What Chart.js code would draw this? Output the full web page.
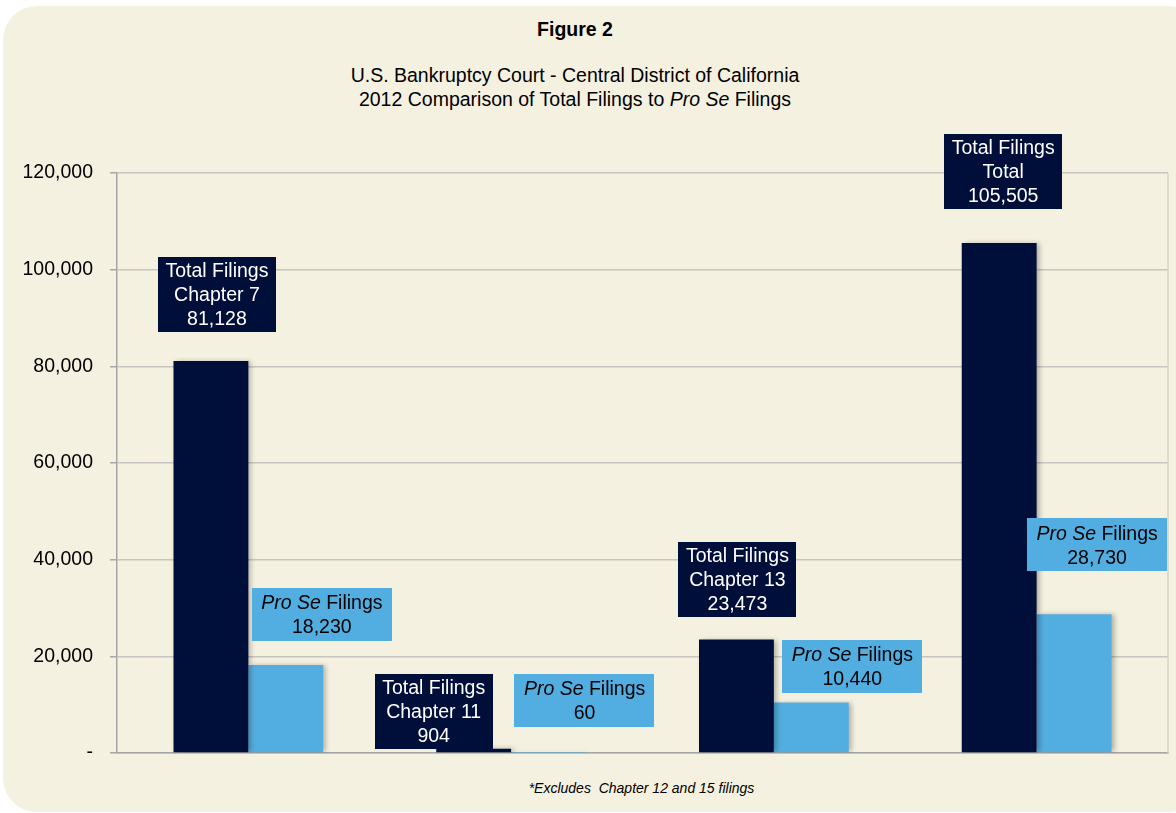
<!DOCTYPE html>
<html>
<head>
<meta charset="utf-8">
<script src="https://cdn.jsdelivr.net/npm/chart.js@4.4.1/dist/chart.umd.min.js"></script>
<style>
  html, body { margin:0; padding:0; background:#ffffff; width:1176px; height:813px; overflow:hidden; }
  #card { position:absolute; left:3px; top:6px; width:1200px; height:806px; background:#F5F1E0; border-radius:34px; }
  #wrap { position:absolute; left:0; top:0; width:1176px; height:813px; }
  .t { position:absolute; left:0; width:1150px; text-align:center; font-family:"Liberation Sans", Arial, sans-serif; color:#000; line-height:22px; }
  #fig { top:18px; font-size:19.5px; font-weight:bold; }
  #sub1 { top:64px; font-size:19.5px; }
  #sub2 { top:88px; font-size:19.5px; }
  #foot { top:779px; left:0; width:1283px; font-size:14px; font-style:italic; line-height:18px; }
</style>
</head>
<body>
<div id="card"></div>
<div class="t" id="fig">Figure 2</div>
<div class="t" id="sub1">U.S. Bankruptcy Court - Central District of California</div>
<div class="t" id="sub2">2012 Comparison of Total Filings to <i>Pro Se</i> Filings</div>
<div class="t" id="foot">*Excludes&nbsp; Chapter 12 and 15 filings</div>
<div id="wrap"><canvas id="c" width="1176" height="813"></canvas></div>
<script>
// ---- data ----
const categories = ["Chapter 7", "Chapter 11", "Chapter 13", "Total"];
const totalFilings = [81128, 904, 23473, 105505];
const proSeFilings = [18230, 60, 10440, 28730];
const yTicks = [0, 20000, 40000, 60000, 80000, 100000, 120000];

// ---- label layout (offsets from bar top-center) ----
const darkOffsets = [[6, -29], [-40, 0], [1, -23], [4, -34]];
const lightOffsets = [[36, -24], [36, -26], [41, -10], [23, -43]];

const DARK = "#000F3A";
const LIGHT = "#52ADE0";
const FONT = '"Liberation Sans", Arial, sans-serif';
const FS = 19.5;
const fmt = v => v.toLocaleString("en-US");

const shadowPlugin = {
  id: "shadow",
  beforeDatasetsDraw(chart) {
    const ctx = chart.ctx;
    ctx.save();
    ctx.shadowColor = "rgba(0,0,0,0.28)";
    ctx.shadowBlur = 5;
    ctx.shadowOffsetX = 3;
    ctx.shadowOffsetY = 0;
  },
  afterDatasetsDraw(chart) { chart.ctx.restore(); }
};

const framePlugin = {
  id: "frame",
  beforeDatasetsDraw(chart) {
    const {ctx, chartArea: a} = chart;
    ctx.save();
    ctx.strokeStyle = "#d4d2c8";
    ctx.lineWidth = 1.5;
    ctx.beginPath();
    ctx.moveTo(a.right, a.top);
    ctx.lineTo(a.right, a.bottom);
    ctx.stroke();
    ctx.restore();
  }
};

const labelPlugin = {
  id: "boxLabels",
  afterDatasetsDraw(chart) {
    const ctx = chart.ctx;
    ctx.save();
    ctx.textBaseline = "middle";
    const lh = 24;
    // dark labels
    chart.getDatasetMeta(0).data.forEach((el, j) => {
      const lines = ["Total Filings", categories[j], fmt(totalFilings[j])];
      ctx.font = FS + "px " + FONT;
      const w = Math.max(...lines.map(l => ctx.measureText(l).width)) + 15;
      const h = lines.length * lh + 3;
      const cx = el.x + darkOffsets[j][0];
      const bottom = el.y + darkOffsets[j][1];
      ctx.fillStyle = DARK;
      ctx.fillRect(Math.round(cx - w / 2), Math.round(bottom - h), Math.round(w), h);
      ctx.fillStyle = "#ffffff";
      ctx.textAlign = "center";
      lines.forEach((l, k) => ctx.fillText(l, cx, bottom - h + 3 + lh / 2 + k * lh));
    });
    // light labels
    chart.getDatasetMeta(1).data.forEach((el, j) => {
      ctx.font = "italic " + FS + "px " + FONT;
      const wIt = ctx.measureText("Pro Se").width;
      ctx.font = FS + "px " + FONT;
      const wRest = ctx.measureText(" Filings").width;
      const val = fmt(proSeFilings[j]);
      const wVal = ctx.measureText(val).width;
      const w = Math.max(wIt + wRest, wVal) + 19;
      const h = 2 * lh + 5;
      const cx = el.x + lightOffsets[j][0];
      const bottom = el.y + lightOffsets[j][1];
      ctx.fillStyle = LIGHT;
      ctx.fillRect(Math.round(cx - w / 2), Math.round(bottom - h), Math.round(w), h);
      ctx.fillStyle = "#000000";
      const y1 = bottom - h + 4 + lh / 2;
      const x0 = cx - (wIt + wRest) / 2;
      ctx.textAlign = "left";
      ctx.font = "italic " + FS + "px " + FONT;
      ctx.fillText("Pro Se", x0, y1);
      ctx.font = FS + "px " + FONT;
      ctx.fillText(" Filings", x0 + wIt, y1);
      ctx.textAlign = "center";
      ctx.fillText(val, cx, y1 + lh);
    });
    ctx.restore();
  }
};

new Chart(document.getElementById("c"), {
  type: "bar",
  data: {
    labels: categories,
    datasets: [
      { label: "Total Filings", data: totalFilings, backgroundColor: DARK, borderWidth: 0 },
      { label: "Pro Se Filings", data: proSeFilings, backgroundColor: LIGHT, borderWidth: 0 }
    ]
  },
  options: {
    responsive: false,
    animation: false,
    layout: { padding: { left: 0, right: 8, top: 173, bottom: 60 } },
    plugins: { legend: { display: false }, tooltip: { enabled: false }, title: { display: false } },
    datasets: { bar: { categoryPercentage: 0.57, barPercentage: 1.0 } },
    scales: {
      x: {
        grid: { display: false, drawTicks: false },
        border: { display: true, color: "#a6a6a6", width: 1.5 },
        ticks: { display: false },
        afterFit: s => { s.height = 0; }
      },
      y: {
        min: 0, max: 120000,
        afterBuildTicks: s => { s.ticks = yTicks.map(v => ({ value: v })); },
        afterFit: s => { s.width = 117; },
        grid: { color: "#c6c5bf", lineWidth: 1.5, tickLength: 7, tickColor: "#a6a6a6" },
        border: { display: true, color: "#a6a6a6", width: 1.5 },
        ticks: {
          padding: 17,
          color: "#000",
          font: { family: FONT, size: FS },
          callback: v => v === 0 ? "-" : fmt(v)
        }
      }
    }
  },
  plugins: [framePlugin, shadowPlugin, labelPlugin]
});
</script>
</body>
</html>
